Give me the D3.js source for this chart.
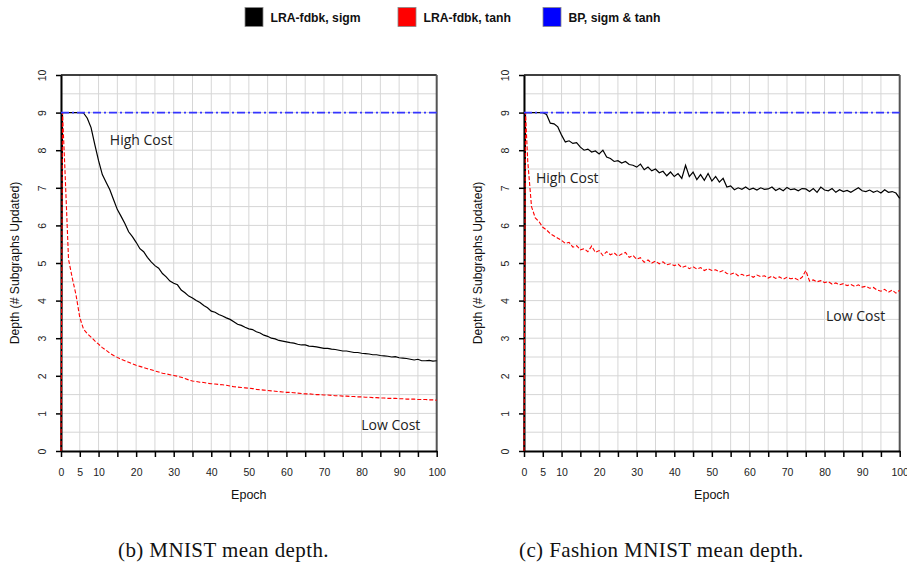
<!DOCTYPE html>
<html>
<head>
<meta charset="utf-8">
<script src="https://cdn.jsdelivr.net/npm/d3@7"></script>
<style>
  body { margin: 0; background: #fff; }
  svg { font-family: "Liberation Sans", Arial, sans-serif; }
</style>
</head>
<body>
<svg id="chart" width="907" height="563"></svg>
<script>
// epochs: first sample at 0, a second one just after 0, then every epoch
const epochs = [0, 0.4].concat(d3.range(1, 101));

// MNIST (panel b)
const mnistSigm = [0, 9,
  9, 9, 9, 9, 9, 8.99, 8.85, 8.6, 8.15, 7.72,
  7.35, 7.15, 6.95, 6.68, 6.42, 6.24, 6.05, 5.83, 5.7, 5.55,
  5.38, 5.3, 5.15, 5.03, 4.93, 4.86, 4.72, 4.63, 4.52, 4.46,
  4.42, 4.28, 4.21, 4.12, 4.07, 4.0, 3.95, 3.87, 3.81, 3.72,
  3.69, 3.63, 3.59, 3.54, 3.5, 3.44, 3.37, 3.34, 3.29, 3.25,
  3.23, 3.17, 3.14, 3.08, 3.05, 3.0, 2.98, 2.94, 2.92, 2.9,
  2.88, 2.87, 2.84, 2.82, 2.82, 2.79, 2.78, 2.77, 2.75, 2.73,
  2.73, 2.71, 2.7, 2.68, 2.66, 2.66, 2.64, 2.62, 2.62, 2.6,
  2.59, 2.58, 2.56, 2.56, 2.54, 2.53, 2.52, 2.5, 2.51, 2.48,
  2.47, 2.46, 2.44, 2.42, 2.44, 2.4, 2.4, 2.41, 2.39, 2.4];
const mnistTanh = [0, 9,
  7.6, 5.1, 4.6, 4.15, 3.55, 3.24, 3.12, 3.03, 2.93, 2.84,
  2.75, 2.68, 2.6, 2.54, 2.49, 2.44, 2.4, 2.36, 2.32, 2.28,
  2.25, 2.22, 2.19, 2.16, 2.13, 2.1, 2.07, 2.05, 2.03, 2.01,
  1.99, 1.96, 1.93, 1.89, 1.86, 1.85, 1.83, 1.82, 1.8, 1.79,
  1.78, 1.77, 1.76, 1.75, 1.73, 1.71, 1.7, 1.69, 1.68, 1.67,
  1.66, 1.64, 1.63, 1.62, 1.61, 1.6, 1.59, 1.58, 1.57, 1.56,
  1.56, 1.55, 1.54, 1.53, 1.52, 1.52, 1.51, 1.5, 1.5, 1.49,
  1.49, 1.48, 1.47, 1.47, 1.46, 1.46, 1.45, 1.45, 1.44, 1.44,
  1.43, 1.43, 1.42, 1.42, 1.41, 1.41, 1.4, 1.4, 1.4, 1.39,
  1.39, 1.38, 1.38, 1.38, 1.37, 1.37, 1.37, 1.36, 1.36, 1.35];

// Fashion MNIST (panel c)
const fashionSigm = [0, 9,
  9, 9, 9, 9, 9, 8.95, 8.72, 8.7, 8.62, 8.4,
  8.22, 8.25, 8.18, 8.2, 8.08, 8.0, 8.03, 7.95, 7.98, 7.9,
  8.0, 7.82, 7.78, 7.7, 7.72, 7.66, 7.7, 7.62, 7.6, 7.55,
  7.63, 7.48, 7.55, 7.45, 7.5, 7.4, 7.44, 7.32, 7.42, 7.3,
  7.38, 7.25, 7.6, 7.3, 7.42, 7.22, 7.35, 7.2, 7.38, 7.18,
  7.3, 7.15, 7.25, 7.02, 7.05, 6.95, 7.0, 6.96, 7.02, 6.95,
  6.99, 6.94, 7.0, 6.96, 6.97, 7.02, 6.93, 6.98, 6.92, 7.01,
  6.95, 6.97, 6.92, 6.98, 6.97, 6.9, 6.98, 6.88, 7.02, 6.94,
  6.92, 6.98, 6.88, 6.95, 6.9, 6.93, 6.88, 6.94, 7.0, 6.92,
  6.9, 6.94, 6.88, 6.92, 6.86, 6.95, 6.88, 6.9, 6.86, 6.72];
const fashionTanh = [0, 9,
  7.7, 6.5, 6.2, 6.1, 5.95, 5.88, 5.78, 5.72, 5.66, 5.6,
  5.52, 5.55, 5.42, 5.46, 5.35, 5.38, 5.3, 5.45, 5.28, 5.33,
  5.2, 5.3, 5.22, 5.27, 5.18, 5.24, 5.28, 5.15, 5.2, 5.1,
  5.14, 5.02, 5.08, 5.0, 5.05, 4.98, 5.03, 4.95, 4.98, 4.93,
  4.97, 4.88, 4.92, 4.85, 4.9, 4.84, 4.88, 4.8, 4.85, 4.8,
  4.82, 4.76, 4.8, 4.72, 4.7, 4.74, 4.66, 4.7, 4.65, 4.68,
  4.62, 4.68, 4.64, 4.66, 4.6, 4.65, 4.59, 4.63, 4.57, 4.62,
  4.58, 4.6, 4.55, 4.62, 4.8, 4.52, 4.55, 4.5, 4.53, 4.48,
  4.5, 4.44, 4.47, 4.42, 4.45, 4.4, 4.43, 4.38, 4.42, 4.36,
  4.38, 4.33, 4.35, 4.28, 4.25, 4.3, 4.22, 4.28, 4.2, 4.28];

// BP baseline, both activations
const bpEpochs = [0, 100];
const bpDepth = [9, 9];

const legendLabels = ["LRA-fdbk, sigm", "LRA-fdbk, tanh", "BP, sigm & tanh"];
const legendColors = ["#000000", "#ff0000", "#0000ff"];
const xTicks = d3.range(0, 101, 5);
const xTickLabels = [0, 5, 10, 20, 30, 40, 50, 60, 70, 80, 90, 100];
const yTicks = [0, 1, 2, 3, 4, 5, 6, 7, 8, 9, 10];
const captions = ["(b) MNIST mean depth.", "(c) Fashion MNIST mean depth."];

const svg = d3.select("#chart");

function drawPanel(left, sigm, tanh, notes, caption, capX) {
  const x = d3.scaleLinear().domain([0, 100]).range([left, left + 375.7]);
  const y = d3.scaleLinear().domain([0, 10]).range([451, 75]);
  const g = svg.append("g");

  // grid
  g.selectAll(".vg").data(xTicks).enter().append("line")
    .attr("x1", d => x(d)).attr("x2", d => x(d))
    .attr("y1", y(0)).attr("y2", y(10))
    .attr("stroke", "#d6d6d6").attr("stroke-width", 1);
  g.selectAll(".hg").data(d3.range(0.5, 10, 0.5)).enter().append("line")
    .attr("x1", x(0)).attr("x2", x(100))
    .attr("y1", d => y(d)).attr("y2", d => y(d))
    .attr("stroke", "#d6d6d6").attr("stroke-width", 1);

  // frame top / right
  g.append("line").attr("x1", x(0)).attr("x2", x(100)).attr("y1", y(10)).attr("y2", y(10))
    .attr("stroke", "#000").attr("stroke-width", 1.3);
  g.append("line").attr("x1", x(100)).attr("x2", x(100)).attr("y1", y(10)).attr("y2", y(0))
    .attr("stroke", "#555").attr("stroke-width", 2);

  // axes
  const xAxis = g.append("g").attr("transform", "translate(0," + y(0) + ")")
    .call(d3.axisBottom(x).tickValues(xTicks).tickSize(6).tickSizeOuter(0)
      .tickFormat(d => xTickLabels.includes(d) ? d : ""));
  xAxis.select(".domain").attr("stroke", "#000").attr("stroke-width", 2);
  xAxis.selectAll(".tick line").attr("stroke", "#000").attr("stroke-width", 1.5);
  xAxis.selectAll("text").attr("y", 21).attr("dy", "0.35em")
    .attr("font-size", 10.5).attr("fill", "#222")
    .style("font-family", "'Liberation Sans', Arial, sans-serif");

  const yAxis = g.append("g").attr("transform", "translate(" + x(0) + ",0)")
    .call(d3.axisLeft(y).tickValues(yTicks).tickSize(5).tickSizeOuter(0));
  yAxis.select(".domain").attr("stroke", "#000").attr("stroke-width", 2);
  yAxis.selectAll(".tick line").attr("stroke", "#000").attr("stroke-width", 1.5);
  yAxis.selectAll("text").attr("transform", "rotate(-90)")
    .attr("x", 0).attr("y", -18.3).attr("dy", "0.35em")
    .attr("text-anchor", "middle")
    .attr("font-size", 10.5).attr("fill", "#222")
    .style("font-family", "'Liberation Sans', Arial, sans-serif");

  // axis titles
  g.append("text").attr("x", (x(0) + x(100)) / 2).attr("y", 499)
    .attr("text-anchor", "middle").attr("font-size", 12.5).attr("fill", "#111")
    .text("Epoch");
  g.append("text")
    .attr("transform", "translate(" + (x(0) - 42) + "," + y(5) + ") rotate(-90)")
    .attr("text-anchor", "middle").attr("font-size", 12.2).attr("fill", "#111")
    .text("Depth (# Subgraphs Updated)");

  // series
  const line = d3.line().x((d, i) => x(epochs[i])).y(d => y(d));
  g.append("path").datum(sigm).attr("d", line)
    .attr("fill", "none").attr("stroke", legendColors[0]).attr("stroke-width", 1.2);
  g.append("path").datum(tanh).attr("d", line)
    .attr("fill", "none").attr("stroke", legendColors[1]).attr("stroke-width", 1.1)
    .attr("stroke-dasharray", "4,2");
  const bpLine = d3.line().x((d, i) => x(bpEpochs[i])).y(d => y(d));
  g.append("path").datum(bpDepth).attr("d", bpLine)
    .attr("fill", "none").attr("stroke", "#3535ff").attr("stroke-width", 1.6)
    .attr("stroke-dasharray", "8,3,2,3");

  // annotations
  notes.forEach(n => {
    g.append("text").attr("x", x(n.ep)).attr("y", y(n.val))
      .style("font-family", "'Open Sans', 'Noto Sans', sans-serif")
      .attr("font-size", 14).attr("fill", "#222").text(n.text);
  });

  // caption
  svg.append("text").attr("x", capX).attr("y", 557)
    .style("font-family", "'Liberation Serif', 'Times New Roman', serif")
    .style("letter-spacing", "0.4px")
    .attr("font-size", 21).attr("fill", "#111").text(caption);
}

drawPanel(61, mnistSigm, mnistTanh,
  [{ text: "High Cost", ep: 13, val: 8.14 }, { text: "Low Cost", ep: 79.9, val: 0.57 }],
  captions[0], 118);
drawPanel(524, fashionSigm, fashionTanh,
  [{ text: "High Cost", ep: 3.2, val: 7.14 }, { text: "Low Cost", ep: 80.4, val: 3.45 }],
  captions[1], 519);

// legend
const legendX = [245, 398, 543];
const leg = svg.append("g");
legendLabels.forEach((lab, i) => {
  leg.append("rect").attr("x", legendX[i]).attr("y", 7.5).attr("width", 18).attr("height", 19)
    .attr("fill", legendColors[i]).attr("stroke", "#888").attr("stroke-width", 0.8);
  leg.append("text").attr("x", legendX[i] + 25.5).attr("y", 21.5)
    .attr("font-size", 12.2).attr("font-weight", "bold").attr("fill", "#111").text(lab);
});
</script>
</body>
</html>
